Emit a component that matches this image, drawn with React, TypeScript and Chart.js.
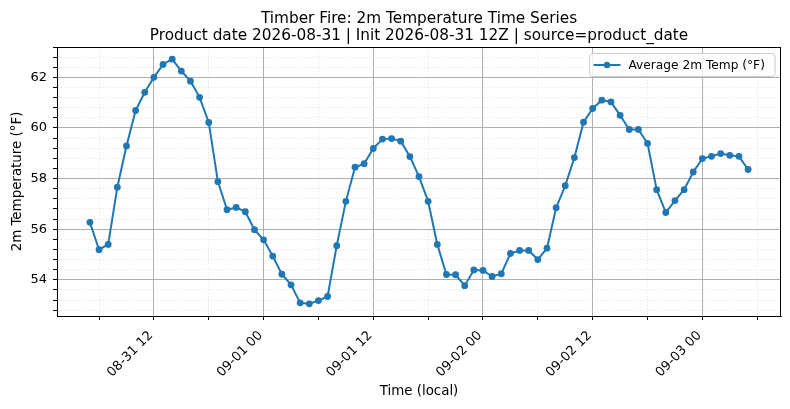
import React, { useEffect, useRef } from "react";
import { Chart, registerables } from "chart.js";

Chart.register(...registerables);

// ---- Data ----
const TITLE_LINES = [
  "Timber Fire: 2m Temperature Time Series",
  "Product date 2026-08-31 | Init 2026-08-31 12Z | source=product_date",
];
const SERIES_LABEL = "Average 2m Temp (°F)";
const X_LABEL = "Time (local)";
const Y_LABEL = "2m Temperature (°F)";

// hourly values starting 2026-08-31 05:00 local (x = hours since start)
const tempF: number[] = [
  // 08-31 05..23
  56.27, 55.19, 55.4, 57.66, 59.29, 60.69, 61.41, 62.0, 62.51, 62.72, 62.25, 61.85, 61.21, 60.22, 57.88, 56.77, 56.86, 56.69, 55.98,
  // 09-01 00..23
  55.58, 54.94, 54.22, 53.8, 53.09, 53.05, 53.18, 53.34, 55.35, 57.1, 58.45, 58.59, 59.19, 59.56, 59.58, 59.48, 58.87, 58.08, 57.1, 55.4, 54.21, 54.2, 53.77, 54.39,
  // 09-02 00..23
  54.37, 54.13, 54.24, 55.04, 55.16, 55.16, 54.8, 55.25, 56.85, 57.72, 58.83, 60.23, 60.77, 61.1, 61.03, 60.5, 59.94, 59.94, 59.39, 57.56, 56.66, 57.13, 57.56, 58.26,
  // 09-03 00..05
  58.79, 58.88, 58.99, 58.92, 58.88, 58.36,
];

// x tick positions (hours since 08-31 05:00)
const xMajorTicks = [7, 19, 31, 43, 55, 67];
const xMajorLabels = ["08-31 12", "09-01 00", "09-01 12", "09-02 00", "09-02 12", "09-03 00"];
const xMinorTicks = [1, 13, 25, 37, 49, 61, 73];
const X_MIN = -3.6;
const X_MAX = 75.6;

const yMajorTicks = [54, 56, 58, 60, 62];
const yMinorTicks = [52.8, 53.2, 53.6, 54.4, 54.8, 55.2, 55.6, 56.4, 56.8, 57.2, 57.6, 58.4, 58.8, 59.2, 59.6, 60.4, 60.8, 61.2, 61.6, 62.4, 62.8, 63.2];
const Y_MIN = 52.57;
const Y_MAX = 63.2;

const FONT = "'DejaVu Sans', sans-serif";
const LINE_COLOR = "#1f77b4";

const isIn = (arr: number[], v: number) => arr.some((a) => Math.abs(a - v) < 1e-6);

const boxPlugin = {
  id: "boxAndDecor",
  afterDraw(chart: any) {
    const { ctx, chartArea } = chart;
    const { left, right, top, bottom } = chartArea;
    ctx.save();
    // spines
    ctx.strokeStyle = "#000";
    ctx.lineWidth = 1;
    ctx.strokeRect(Math.round(left) + 0.5, Math.round(top) + 0.5, Math.round(right - left) - 1, Math.round(bottom - top));
    // title
    const cx = (left + right) / 2;
    ctx.fillStyle = "#000";
    ctx.font = `15.3px ${FONT}`;
    ctx.textAlign = "center";
    ctx.textBaseline = "alphabetic";
    ctx.fillText(TITLE_LINES[0], cx, 22.7);
    ctx.fillText(TITLE_LINES[1], cx, 39.7);
    // legend
    const bw = 185.5;
    const bh = 23;
    const bx = right - 6 - bw;
    const by = top + 6.5;
    ctx.beginPath();
    ctx.roundRect(bx, by, bw, bh, 3);
    ctx.fillStyle = "rgba(255,255,255,0.8)";
    ctx.fill();
    ctx.strokeStyle = "#cccccc";
    ctx.lineWidth = 1;
    ctx.stroke();
    const ly = by + bh / 2;
    ctx.beginPath();
    ctx.moveTo(bx + 4, ly);
    ctx.lineTo(bx + 31, ly);
    ctx.strokeStyle = LINE_COLOR;
    ctx.lineWidth = 2;
    ctx.stroke();
    ctx.beginPath();
    ctx.arc(bx + 17.5, ly, 3.2, 0, Math.PI * 2);
    ctx.fillStyle = LINE_COLOR;
    ctx.fill();
    ctx.fillStyle = "#000";
    ctx.font = `12.2px ${FONT}`;
    ctx.textAlign = "left";
    ctx.textBaseline = "middle";
    ctx.fillText(SERIES_LABEL, bx + 39, ly + 0.5);
    ctx.restore();
  },
};

export default function App() {
  const ref = useRef<HTMLCanvasElement | null>(null);
  useEffect(() => {
    if (!ref.current) return;
    const points = tempF.map((v, i) => ({ x: i, y: v }));
    const chart = new Chart(ref.current, {
      type: "line",
      data: {
        datasets: [
          {
            label: SERIES_LABEL,
            data: points,
            borderColor: LINE_COLOR,
            backgroundColor: LINE_COLOR,
            borderWidth: 2,
            pointRadius: 3.4,
            pointHoverRadius: 3.4,
            pointBorderWidth: 0,
            pointBackgroundColor: LINE_COLOR,
            tension: 0,
          },
        ],
      },
      options: {
        responsive: false,
        animation: false,
        events: [],
        layout: { padding: { top: 47, right: 9, left: 0, bottom: 0 } },
        plugins: {
          legend: { display: false },
          title: { display: false },
          tooltip: { enabled: false },
        },
        scales: {
          x: {
            type: "linear",
            min: X_MIN,
            max: X_MAX,
            afterBuildTicks: (s: any) => {
              s.ticks = [...xMajorTicks, ...xMinorTicks].sort((a, b) => a - b).map((v) => ({ value: v }));
            },
            afterFit: (s: any) => {
              s.height = 93;
              s.paddingLeft = 0;
              s.paddingRight = 0;
            },
            ticks: {
              autoSkip: false,
              minRotation: 45,
              maxRotation: 45,
              padding: 8,
              labelOffset: -3,
              color: "#000",
              font: { family: FONT, size: 13 },
              callback: (v: any) => {
                const i = xMajorTicks.findIndex((t) => Math.abs(t - v) < 1e-6);
                return i >= 0 ? xMajorLabels[i] : "";
              },
            },
            grid: {
              color: (c: any) => (c.tick && isIn(xMajorTicks, c.tick.value) ? "#a6a6a6" : "#d9d9d9"),
              lineWidth: (c: any) => (c.tick && isIn(xMajorTicks, c.tick.value) ? 0.9 : 0.7),
              tickColor: "#000",
              tickLength: 4,
              tickWidth: 1,
            },
            border: {
              display: true,
              color: "#000",
              width: 1,
              dash: (c: any) => (c.tick && !isIn(xMajorTicks, c.tick.value) ? [1, 2] : []),
            },
            title: {
              display: true,
              text: X_LABEL,
              color: "#000",
              font: { family: FONT, size: 13.4 },
              padding: { top: 0, bottom: 9 },
            },
          },
          y: {
            type: "linear",
            min: Y_MIN,
            max: Y_MAX,
            afterBuildTicks: (s: any) => {
              s.ticks = [...yMajorTicks, ...yMinorTicks].sort((a, b) => a - b).map((v) => ({ value: v }));
            },
            afterFit: (s: any) => {
              s.width = 57;
              s.paddingTop = 0;
              s.paddingBottom = 0;
            },
            ticks: {
              autoSkip: false,
              padding: 6,
              color: "#000",
              font: { family: FONT, size: 13 },
              callback: (v: any) => (isIn(yMajorTicks, v) ? String(Math.round(v)) : ""),
            },
            grid: {
              color: (c: any) => (c.tick && isIn(yMajorTicks, c.tick.value) ? "#a6a6a6" : "#d9d9d9"),
              lineWidth: (c: any) => (c.tick && isIn(yMajorTicks, c.tick.value) ? 0.9 : 0.7),
              tickColor: "#000",
              tickLength: 4,
              tickWidth: 1,
            },
            border: {
              display: true,
              color: "#000",
              width: 1,
              dash: (c: any) => (c.tick && !isIn(yMajorTicks, c.tick.value) ? [1, 2] : []),
            },
            title: {
              display: true,
              text: Y_LABEL,
              color: "#000",
              font: { family: FONT, size: 13.4 },
              padding: { top: 9, bottom: 0 },
            },
          },
        },
      },
      plugins: [boxPlugin],
    });
    return () => chart.destroy();
  }, []);

  return (
    <div style={{ position: "absolute", left: 0, top: 0, width: 790, height: 409, background: "#fff" }}>
      <canvas ref={ref} width={790} height={409} style={{ width: 790, height: 409, display: "block" }} />
    </div>
  );
}
